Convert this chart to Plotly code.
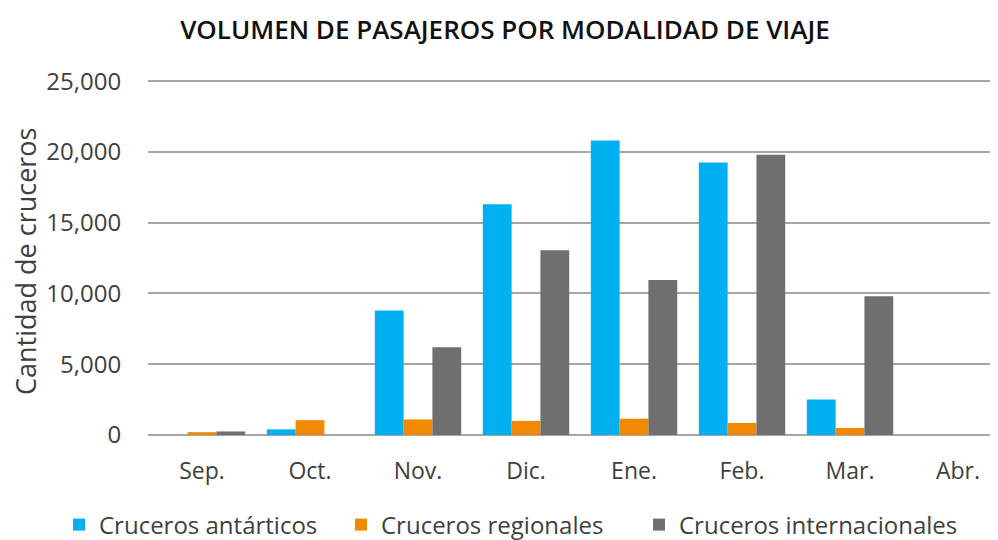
import plotly.graph_objects as go

meses = ["Sep.", "Oct.", "Nov.", "Dic.", "Ene.", "Feb.", "Mar.", "Abr."]
antarticos = [0, 400, 8800, 16300, 20800, 19250, 2500, 0]
regionales = [200, 1050, 1100, 1000, 1150, 850, 500, 0]
internacionales = [250, 0, 6200, 13050, 10950, 19800, 9800, 0]

series = [
    ("Cruceros antárticos", antarticos, "#00B0F0", "legend"),
    ("Cruceros regionales", regionales, "#F18A00", "legend2"),
    ("Cruceros internacionales", internacionales, "#6F6F6F", "legend3"),
]

fig = go.Figure()
for name, vals, col, lg in series:
    fig.add_trace(go.Bar(name=name, x=meses, y=vals, legend=lg,
                         marker=dict(color=col, line=dict(width=0))))

legend_style = dict(orientation="h", xref="container", xanchor="left",
                    y=-0.2535, yanchor="middle", itemwidth=30,
                    font=dict(size=24, color="#404040"), bgcolor="rgba(0,0,0,0)")

# page body has an 8px margin, so the figure is 990x532 and shifted by 8px
fig.update_layout(
    width=990, height=532,
    paper_bgcolor="white", plot_bgcolor="white",
    margin=dict(l=140, r=0, t=72, b=105, autoexpand=False),
    barmode="group", bargap=0.2, bargroupgap=0,
    font=dict(family="Open Sans", color="#404040"),
    title=dict(text="VOLUMEN DE PASAJEROS POR MODALIDAD DE VIAJE",
               x=0.502, xanchor="center", y=0.9586, yanchor="middle",
               font=dict(size=26, color="#111111", family="Open Sans", weight=600)),
    showlegend=True,
    legend=dict(x=51 / 990, **legend_style),
    legend2=dict(x=333 / 990, **legend_style),
    legend3=dict(x=631 / 990, **legend_style),
    annotations=[dict(text="Cantidad de cruceros", textangle=-90, showarrow=False,
                      xref="paper", yref="paper", x=-0.1447, y=0.49,
                      xanchor="center", yanchor="middle",
                      font=dict(size=27, color="#404040"))],
)
fig.update_xaxes(range=[-0.5, 7.37], showgrid=False, showline=False, zeroline=False,
                 automargin=False,
                 ticks="outside", ticklen=15, tickcolor="rgba(0,0,0,0)",
                 tickfont=dict(size=23, color="#404040"))
fig.update_yaxes(range=[0, 25080], dtick=5000, tickformat=",", showgrid=True,
                 gridcolor="#A6A6A6", gridwidth=2, zeroline=True, zerolinecolor="#A6A6A6",
                 zerolinewidth=2, showline=False, automargin=False,
                 ticks="outside", ticklen=21, tickcolor="rgba(0,0,0,0)",
                 tickfont=dict(size=24, color="#404040"))

fig.write_html("out.html")
